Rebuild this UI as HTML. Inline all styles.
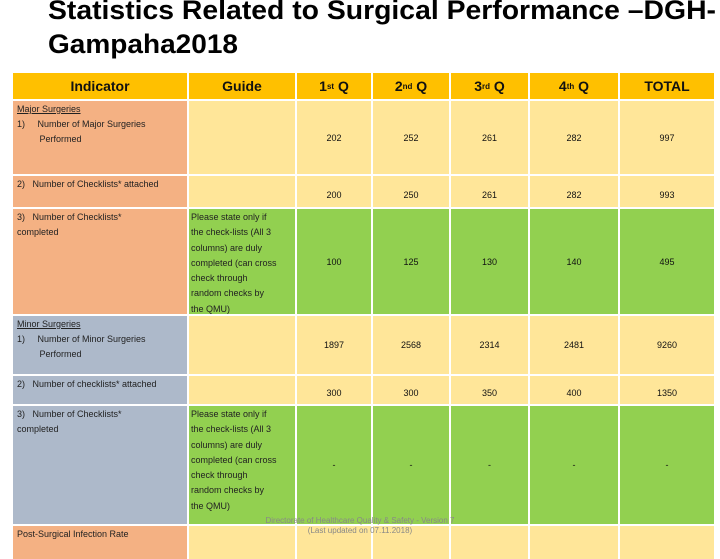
<!DOCTYPE html>
<html><head><meta charset="utf-8"><style>
body{margin:0;width:720px;height:540px;overflow:hidden;background:#fff;font-family:"Liberation Sans",sans-serif;position:relative}
.c{position:absolute;box-sizing:border-box;font-size:9px;color:#222}
.h{background:#FFC000;font-weight:bold;font-size:14px;color:#111;display:flex;align-items:center;justify-content:center}
.o{background:#F4B183}.b{background:#ADB9CA}.y{background:#FFE699}.g{background:#92D050}
.n{display:flex;align-items:center;justify-content:center;font-size:9px;color:#111}
.t{padding:1px 4px;line-height:15px}
.gd{padding:1px 2px;line-height:15.3px;font-size:9px}
</style></head><body>
<svg style="position:absolute;left:0;top:0" width="720" height="70">
<text x="48" y="19" font-size="27" font-weight="bold" textLength="668" lengthAdjust="spacingAndGlyphs" font-family="Liberation Sans, sans-serif">Statistics Related to Surgical Performance –DGH-</text>
<text x="48" y="53" font-size="27" font-weight="bold" textLength="190" lengthAdjust="spacingAndGlyphs" font-family="Liberation Sans, sans-serif">Gampaha2018</text>
</svg>
<div id="tbl"></div>
<div class="c" style="left:250px;top:516px;width:220px;text-align:center;font-size:8px;color:#888;line-height:10px">Directorate of Healthcare Quality &amp; Safety - Version 7<br>(Last updated on 07.11.2018)</div>
<script>
const cols=[12,188,296,372,450,529,619,715];
const heads=["Indicator","Guide","1<sup style='font-size:8px'>st</sup>&nbsp;Q","2<sup style='font-size:8px'>nd</sup>&nbsp;Q","3<sup style='font-size:8px'>rd</sup>&nbsp;Q","4<sup style='font-size:8px'>th</sup>&nbsp;Q","TOTAL"];
const rowsY=[[100,175],[175,208],[208,315],[315,375],[375,405],[405,525],[525,560]];
const indicators=["<u>Major Surgeries</u><br>1)&nbsp;&nbsp;&nbsp;&nbsp;&nbsp;Number of Major Surgeries<br>&nbsp;&nbsp;&nbsp;&nbsp;&nbsp;&nbsp;&nbsp;&nbsp;&nbsp;Performed","2)&nbsp;&nbsp;&nbsp;Number of Checklists* attached","3)&nbsp;&nbsp;&nbsp;Number of Checklists*<br>completed","<u>Minor Surgeries</u><br>1)&nbsp;&nbsp;&nbsp;&nbsp;&nbsp;Number of Minor Surgeries<br>&nbsp;&nbsp;&nbsp;&nbsp;&nbsp;&nbsp;&nbsp;&nbsp;&nbsp;Performed","2)&nbsp;&nbsp;&nbsp;Number of checklists* attached","3)&nbsp;&nbsp;&nbsp;Number of Checklists*<br>completed","Post-Surgical Infection Rate"];
const indColors=["o","o","o","b","b","b","o"];
const guideText="Please state only if<br>the check-lists (All 3<br>columns) are duly<br>completed (can cross<br>check through<br>random checks by<br>the QMU)";
const guides=["","",guideText,"","",guideText,""];
const q1=["202","200","100","1897","300","-",""];
const q2=["252","250","125","2568","300","-",""];
const q3=["261","261","130","2314","350","-",""];
const q4=["282","282","140","2481","400","-",""];
const totals=["997","993","495","9260","1350","-",""];
const rowColors=["y","y","g","y","y","g","y"];
const tbl=document.getElementById('tbl');
function cell(cls,x0,x1,y0,y1,html){const d=document.createElement('div');d.className='c '+cls;d.style.left=(x0+1)+'px';d.style.top=(y0+1)+'px';d.style.width=(x1-x0-2)+'px';d.style.height=(y1-y0-2)+'px';d.innerHTML=html;tbl.appendChild(d);return d;}
heads.forEach((h,i)=>{const d=cell('h',cols[i],cols[i+1],72,100,h);

});
const vals=[q1,q2,q3,q4,totals];
rowsY.forEach((r,ri)=>{
const a=cell(indColors[ri]+' t',cols[0],cols[1],r[0],r[1],indicators[ri]);


const g=cell(rowColors[ri]+' gd',cols[1],cols[2],r[0],r[1],guides[ri]);


vals.forEach((v,vi)=>{const d=cell(rowColors[ri]+' n',cols[vi+2],cols[vi+3],r[0],r[1],v[ri]);
if(ri===1||ri===4){d.style.paddingTop='6px';}

});
});
</script>
</body></html>
